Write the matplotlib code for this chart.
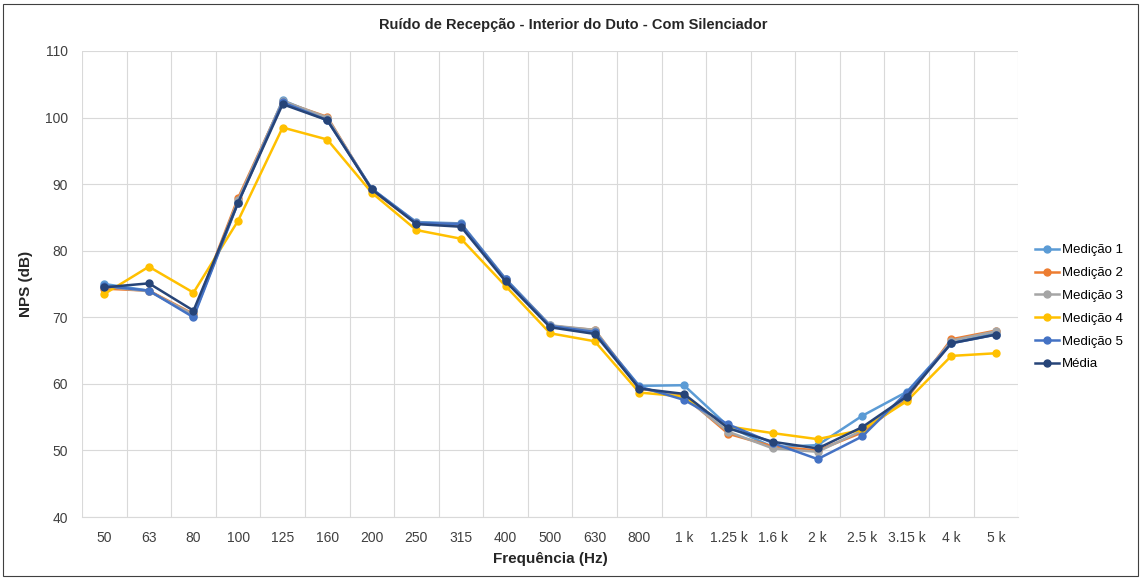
import numpy as np
import matplotlib.pyplot as plt
from matplotlib.patches import Rectangle

plt.rcParams['font.family'] = ['Liberation Sans', 'DejaVu Sans']

# frequency bands (1/3 octave)
freqs = ['50', '63', '80', '100', '125', '160', '200', '250', '315', '400', '500',
         '630', '800', '1 k', '1.25 k', '1.6 k', '2 k', '2.5 k', '3.15 k', '4 k', '5 k']

med1 = [75.0, 74.0, 70.2, 87.3, 102.6, 99.8, 89.3, 84.3, 84.1, 75.8, 68.8,
        67.8, 59.7, 59.8, 53.6, 50.5, 50.8, 55.2, 58.8, 66.2, 67.6]
med2 = [74.3, 74.0, 70.5, 87.9, 102.4, 100.1, 89.1, 84.1, 83.9, 75.6, 68.7,
        68.1, 59.3, 58.2, 52.5, 50.6, 50.0, 52.7, 57.8, 66.7, 68.0]
med3 = [74.6, 73.9, 70.4, 87.6, 102.5, 100.0, 89.2, 84.2, 84.0, 75.7, 68.8,
        68.1, 59.4, 58.0, 52.8, 50.3, 49.8, 53.0, 58.0, 66.5, 67.9]
med4 = [73.5, 77.6, 73.7, 84.5, 98.5, 96.7, 88.7, 83.1, 81.8, 74.7, 67.6,
        66.4, 58.7, 58.1, 53.6, 52.6, 51.7, 53.1, 57.4, 64.2, 64.6]
med5 = [74.7, 74.0, 70.0, 87.2, 102.3, 99.6, 89.3, 84.2, 84.0, 75.7, 68.7,
        67.8, 59.6, 57.6, 53.9, 51.1, 48.7, 52.1, 58.7, 66.1, 67.4]
media = [74.5, 75.1, 71.0, 87.2, 102.0, 99.6, 89.2, 84.0, 83.6, 75.4, 68.5,
         67.5, 59.3, 58.5, 53.3, 51.3, 50.3, 53.5, 58.1, 66.1, 67.4]

labels = ['Medição 1', 'Medição 2', 'Medição 3', 'Medição 4', 'Medição 5', 'Média']
series = [med1, med2, med3, med4, med5, media]
colors = ['#5B9BD5', '#ED7D31', '#A5A5A5', '#FFC000', '#4472C4', '#264478']

fig = plt.figure(figsize=(11.41, 5.79), dpi=100)
ax = fig.add_axes([0.0719, 0.107, 0.8205, 0.805])

x = np.arange(len(freqs))
for vals, lab, c in zip(series, labels, colors):
    ax.plot(x, vals, color=c, lw=1.8, marker='o', ms=5, label=lab)

ax.set_xlim(-0.5, len(freqs) - 0.5)
ax.set_ylim(40, 110)
ax.set_yticks(np.arange(40, 111, 10))
ax.set_xticks(x)
ax.set_xticklabels(freqs)
ax.set_xticks(np.arange(-0.5, len(freqs), 1), minor=True)

ax.grid(axis='y', which='major', color='#D9D9D9', lw=0.8)
ax.grid(axis='x', which='minor', color='#D9D9D9', lw=0.8)
ax.set_axisbelow(True)
for s in ['top', 'right', 'left']:
    ax.spines[s].set_visible(False)
ax.spines['bottom'].set_color('#D9D9D9')
ax.tick_params(axis='both', which='both', length=0, labelsize=10, colors='#404040')
ax.tick_params(axis='x', pad=10)
ax.tick_params(axis='y', pad=10)

fig.text(0.502, 0.957, 'Ruído de Recepção - Interior do Duto - Com Silenciador',
         fontsize=10.5, fontweight='bold', color='#262626', ha='center', va='center')
ax.set_xlabel('Frequência (Hz)', fontsize=11, fontweight='bold', color='#262626')
ax.set_ylabel('NPS (dB)', fontsize=11, fontweight='bold', color='#262626')
ax.xaxis.set_label_coords(0.5, -0.076)
ax.yaxis.set_label_coords(-0.052, 0.5)

ax.legend(loc='center left', bbox_to_anchor=(1.0, 0.45), frameon=False,
          fontsize=9.5, handlelength=1.8, handletextpad=0.2, labelspacing=0.8,
          borderaxespad=0.9)

fig.patches.append(Rectangle((0.003, 0.005), 0.994, 0.988, transform=fig.transFigure,
                             fill=False, edgecolor='#404040', lw=0.8))

fig.savefig('out.png', dpi=100)
